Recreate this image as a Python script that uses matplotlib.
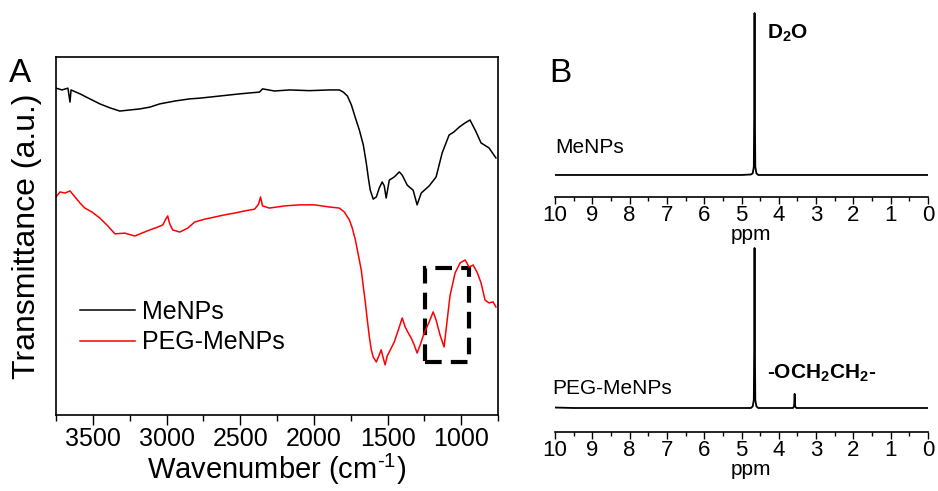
#!/usr/bin/env python3

import matplotlib
matplotlib.use('Agg')
from matplotlib import pyplot as plt
from matplotlib.patches import Rectangle
from matplotlib.ticker import MultipleLocator

plt.rcParams['font.family'] = ['Liberation Sans', 'DejaVu Sans']
plt.rcParams['mathtext.fontset'] = 'custom'
plt.rcParams['mathtext.rm'] = 'Liberation Sans'
plt.rcParams['mathtext.bf'] = 'Liberation Sans:bold'
plt.rcParams['mathtext.default'] = 'regular'

# FTIR, MeNPs (wavenumber in cm-1, transmittance in a.u.)
wn_me = [3750, 3709, 3669, 3655, 3648, 3587, 3520, 3452, 3384, 3317, 3249, 3181,
         3113, 3046, 2944, 2843, 2775, 2639, 2504, 2369, 2348, 2267, 2165, 2030,
         1894, 1827, 1800, 1772, 1745, 1718, 1691, 1664, 1644, 1630, 1617, 1597,
         1576, 1556, 1536, 1522, 1509, 1488, 1454, 1420, 1400, 1366, 1326, 1299,
         1271, 1217, 1170, 1129, 1082, 1048, 1014, 973, 940, 899, 865, 811, 764]
tr_me = [91.3, 90.8, 91.3, 87.4, 90.8, 89.7, 88.3, 86.9, 85.8, 84.9, 85.2, 85.5,
         86.0, 86.9, 87.7, 88.3, 88.5, 89.1, 89.7, 90.2, 91.1, 90.5, 90.8, 90.6,
         90.8, 90.8, 90.2, 89.1, 86.6, 83.0, 79.6, 75.4, 70.4, 66.2, 62.8, 60.3,
         60.9, 63.4, 65.1, 64.0, 60.6, 65.6, 66.5, 67.9, 67.0, 64.2, 62.8, 58.7,
         62.0, 64.0, 66.5, 73.2, 78.2, 79.1, 80.4, 81.6, 82.4, 79.1, 76.0, 74.6, 71.8]

# FTIR, PEG-MeNPs
wn_peg = [3750, 3723, 3689, 3655, 3621, 3587, 3554, 3506, 3452, 3398, 3350, 3283,
          3215, 3168, 3113, 3059, 3025, 3005, 2992, 2978, 2958, 2910, 2856, 2809,
          2741, 2673, 2606, 2538, 2470, 2402, 2375, 2362, 2348, 2301, 2199, 2098,
          1996, 1894, 1827, 1793, 1759, 1739, 1718, 1698, 1678, 1664, 1650, 1637,
          1623, 1610, 1597, 1576, 1556, 1543, 1529, 1516, 1502, 1488, 1454, 1427,
          1400, 1380, 1359, 1339, 1319, 1299, 1278, 1251, 1217, 1190, 1170, 1143,
          1116, 1095, 1075, 1041, 1007, 973, 946, 919, 892, 865, 838, 811, 784, 764]
tr_peg = [60.9, 62.3, 62.0, 62.6, 60.9, 59.2, 57.8, 56.7, 55.0, 52.8, 50.6, 50.8,
          50.0, 50.8, 51.7, 52.5, 53.1, 54.7, 55.6, 53.4, 51.7, 51.1, 52.2, 53.9,
          54.7, 55.3, 55.9, 56.4, 57.0, 57.5, 58.9, 60.9, 58.4, 57.8, 58.4, 58.7,
          58.7, 58.1, 57.8, 56.7, 54.5, 52.2, 48.9, 44.7, 40.5, 35.8, 31.3, 26.5,
          21.8, 18.2, 16.2, 14.8, 16.8, 18.2, 15.9, 14.0, 16.5, 17.6, 20.4, 23.7,
          27.1, 24.6, 22.9, 21.5, 19.6, 17.3, 19.6, 22.9, 26.0, 28.8, 26.5, 22.3,
          19.0, 26.5, 33.5, 39.7, 42.5, 43.3, 41.3, 41.9, 39.9, 36.9, 32.1, 31.3, 31.6, 30.2]

# highlighted region (wavenumber span, transmittance span)
box_wn = [1244, 946]
box_tr = [14.8, 41.1]

# 1H NMR, MeNPs (ppm, intensity)
ppm_me = [10, 5.0, 4.75, 4.70, 4.67, 4.66, 4.65, 4.64, 4.63, 4.60, 4.55, 0]
int_me = [0, 0, 0.3, 1.0, 5, 35, 100, 35, 5, 1.0, 0, 0]

# 1H NMR, PEG-MeNPs
ppm_peg = [10, 9.5, 5.6, 4.75, 4.70, 4.67, 4.66, 4.65, 4.64, 4.63, 4.60, 4.55,
           3.62, 3.59, 3.575, 3.56, 3.53, 0]
int_peg = [0.3, 0, 0, 0, 1.0, 5, 35, 100, 35, 5, 1.0, 0,
           0, 1.0, 8.8, 1.0, 0, 0]

fig = plt.figure(dpi=100, figsize=(9.38, 4.91))

# ---- panel A ----
ax = fig.add_axes([56/938, 76/491, 442/938, 358/491])
ax.plot(wn_me, tr_me, color='black', lw=1.1, label='MeNPs')
ax.plot(wn_peg, tr_peg, color='red', lw=1.1, label='PEG-MeNPs')
ax.add_patch(Rectangle((box_wn[0], box_tr[0]), box_wn[1] - box_wn[0], box_tr[1] - box_tr[0],
                       fill=False, ec='black', lw=3, ls=(0, (4, 2.2))))
ax.set_xlim(3750, 750)
ax.set_ylim(0, 100)
ax.set_yticks([])
ax.xaxis.set_major_locator(MultipleLocator(500))
ax.xaxis.set_minor_locator(MultipleLocator(250))
ax.tick_params(axis='x', which='major', direction='out', length=7, width=1, labelsize=18, pad=2)
ax.tick_params(axis='x', which='minor', direction='out', length=4, width=1)
ax.set_xlabel(r'Wavenumber (cm$^{\text{-1}}$)', fontsize=21, labelpad=0)
ax.set_ylabel('Transmittance (a.u.)', fontsize=23, labelpad=10)
ax.legend(loc='center left', bbox_to_anchor=(0.054, 0.245), frameon=False, fontsize=18,
          handlelength=2.2, handletextpad=0.3, labelspacing=0.25, borderpad=0, borderaxespad=0)
for s in ax.spines.values():
    s.set_linewidth(1.2)
fig.text(9/938, 418/491, 'A', fontsize=24, va='center', ha='left')

# ---- panel B ----
def nmr_axes(rect, ylim):
    a = fig.add_axes(rect)
    a.set_xlim(10, 0)
    a.set_ylim(*ylim)
    for k in ['top', 'left', 'right']:
        a.spines[k].set_visible(False)
    a.spines['bottom'].set_linewidth(1.2)
    a.set_yticks([])
    a.xaxis.set_major_locator(MultipleLocator(1))
    a.xaxis.set_minor_locator(MultipleLocator(0.5))
    a.tick_params(axis='x', which='major', direction='out', length=5, width=1, labelsize=16, pad=1)
    a.tick_params(axis='x', which='minor', direction='out', length=3, width=1)
    a.set_xlabel('ppm', fontsize=15, labelpad=-1)
    a.xaxis.label.set_x(0.525)
    a.patch.set_alpha(0)
    return a

bt = nmr_axes([555/938, 294/491, 373/938, 187/491], (-13.6, 101.9))
bt.plot(ppm_me, int_me, color='black', lw=1.3)
bt.text(10, 16.7, 'MeNPs', fontsize=15, va='center', ha='left')
bt.text(4.32, 87.7, 'D$_2$O', fontsize=15, fontweight='bold', va='center', ha='left')

bb = nmr_axes([555/938, 59/491, 373/938, 192/491], (-15, 105))
bb.plot(ppm_peg, int_peg, color='black', lw=1.3)
bb.text(10.08, 12.5, 'PEG-MeNPs', fontsize=15, va='center', ha='left')
bb.text(4.32, 21.9, '-OCH$_2$CH$_2$-', fontsize=15, fontweight='bold', va='center', ha='left')

fig.text(549/938, 418/491, 'B', fontsize=24, va='center', ha='left')

plt.savefig('out.png', dpi=100)
